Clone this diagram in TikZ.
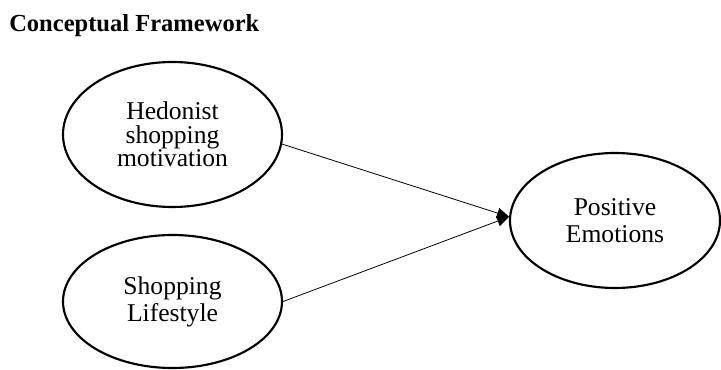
\documentclass[tikz,border=0pt]{standalone}
\usepackage{fontspec}
\setmainfont{Liberation Serif}
\usetikzlibrary{shapes,arrows.meta,positioning}

\begin{document}
\begin{tikzpicture}[x=0.75pt, y=-0.75pt,
	construct/.style={draw, ellipse, line width=1.6pt, inner sep=0pt, align=center, font=\fontsize{19.2}{20.25}\selectfont},
	link/.style={-{Triangle[length=9pt,width=8pt]}, line width=0.6pt}]
	\useasboundingbox (0,0) rectangle (721,370);
	\node [anchor=base west, inner sep=0pt, font=\bfseries\fontsize{18.4}{22}\selectfont] (title) at (9,32) {Conceptual Framework};
	% constructs
	\node [construct, minimum width=164.25pt, minimum height=108.75pt, font=\fontsize{19.2}{17.6}\selectfont] (hedonist) at (172.5,134.5) {Hedonist\\shopping\\motivation};
	\node [construct, minimum width=164.25pt, minimum height=99.75pt] (lifestyle) at (172.5,301.5) {Shopping\\Lifestyle};
	\node [construct, minimum width=157.5pt, minimum height=101.25pt] (emotions) at (615,220.5) {Positive\\Emotions};
	% paths
	\draw [link] (hedonist.-5) -- (emotions.178);
	\draw [link] (lifestyle.east) -- (emotions.178);
\end{tikzpicture}
\end{document}
